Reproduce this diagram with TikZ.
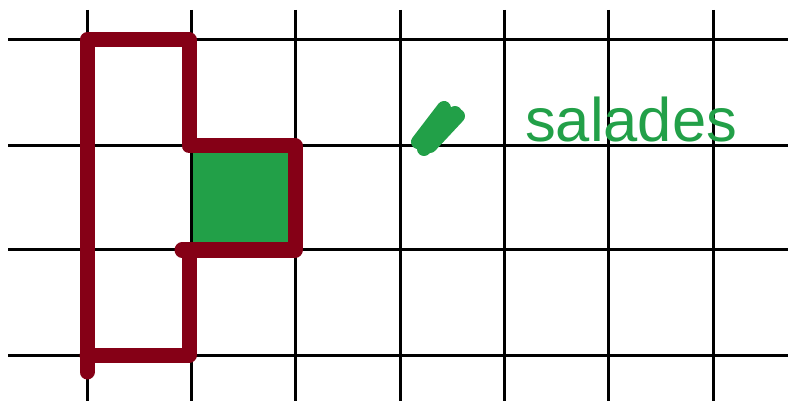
\documentclass[tikz,border=0pt]{standalone}
\usepackage{fontspec}
\setmainfont{Liberation Sans}
\usepackage{tikz}
\usetikzlibrary{positioning}
\definecolor{mywine}{RGB}{133,0,22}
\definecolor{mygreen}{RGB}{34,160,72}
\tikzset{
  gridline/.style={line width=3pt, color=black},
  wall/.style={line width=15pt, color=mywine, line cap=round, line join=round},
  patch/.style={fill=mygreen, draw=none},
  scribble/.style={line width=14pt, color=mygreen, line cap=round},
  legendtext/.style={font=\fontsize{61.5}{62}\selectfont, text=mygreen, inner sep=0pt, anchor=base west}
}

\begin{document}
\begin{tikzpicture}[x=1pt, y=-1pt]
  \useasboundingbox[fill=white] (0,0) rectangle (788,401);

  % Planted cell
  \fill[patch] (191,146) rectangle (295,250);

  % Grid
  \foreach \gx in {87, 191, 295, 400, 504, 608, 713} {
    \draw[gridline] (\gx,10) -- (\gx,401);
  }
  \foreach \gy in {40, 146, 250, 355} {
    \draw[gridline] (8,\gy) -- (788,\gy);
  }

  % Outline of the plot
  \draw[wall] (87,372) -- (87,40) -- (189,40) -- (189,146) -- (295,146)
    -- (295,250) -- (182,250);
  \draw[wall] (189,250) -- (189,355) -- (87,355);

  % Legend
  \draw[scribble] (424,149) -- (455,113);
  \draw[scribble] (418,142) -- (444,108);
  \draw[scribble] (430,146) -- (458,116);
  \node[legendtext] (salades) at (525,142) {salades};
\end{tikzpicture}
\end{document}
